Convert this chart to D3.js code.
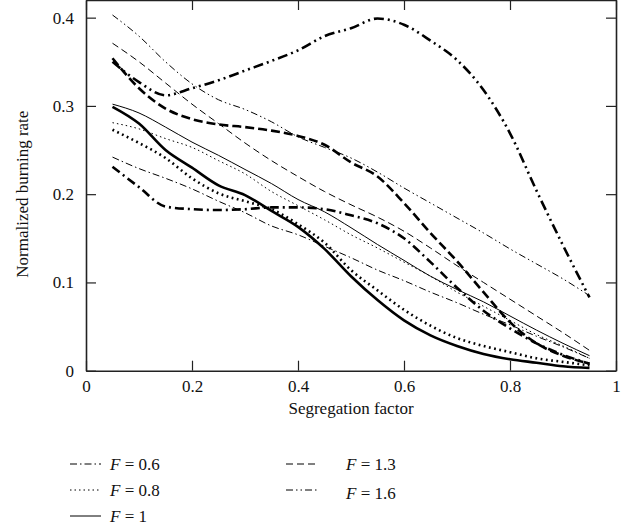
<!DOCTYPE html>
<html>
<head>
<meta charset="utf-8">
<script src="https://cdn.jsdelivr.net/npm/d3@7"></script>
<style>
  html, body { margin: 0; padding: 0; background: #fff; }
  svg { display: block; font-family: "Liberation Serif", "DejaVu Serif", serif; }
</style>
</head>
<body>
<svg id="chart" width="638" height="531"></svg>
<script>
// Segregation factor sample points
const xs = [0.05, 0.1, 0.15, 0.2, 0.25, 0.3, 0.35, 0.4, 0.45, 0.5,
            0.55, 0.6, 0.65, 0.7, 0.75, 0.8, 0.85, 0.9, 0.95];

// Normalized burning rate, two curves per equivalence ratio F (thin and thick)
const f06Thin  = [0.242, 0.229, 0.218, 0.206, 0.192, 0.179, 0.164, 0.154, 0.141, 0.128,
                  0.114, 0.102, 0.089, 0.077, 0.064, 0.052, 0.039, 0.027, 0.014];
const f06Thick = [0.231, 0.208, 0.186, 0.183, 0.182, 0.183, 0.185, 0.185, 0.183, 0.176,
                  0.167, 0.150, 0.123, 0.094, 0.068, 0.048, 0.031, 0.018, 0.008];
const f08Thin  = [0.281, 0.274, 0.263, 0.253, 0.238, 0.223, 0.203, 0.187, 0.171, 0.154,
                  0.139, 0.123, 0.107, 0.089, 0.073, 0.057, 0.041, 0.028, 0.014];
const f08Thick = [0.273, 0.258, 0.241, 0.218, 0.201, 0.192, 0.183, 0.166, 0.145, 0.114,
                  0.091, 0.069, 0.051, 0.037, 0.028, 0.021, 0.014, 0.010, 0.006];
const f1Thin   = [0.302, 0.292, 0.276, 0.259, 0.244, 0.228, 0.212, 0.194, 0.180, 0.162,
                  0.143, 0.125, 0.107, 0.092, 0.078, 0.062, 0.046, 0.031, 0.017];
const f1Thick  = [0.299, 0.280, 0.250, 0.230, 0.210, 0.199, 0.181, 0.163, 0.138, 0.107,
                  0.080, 0.057, 0.040, 0.028, 0.019, 0.013, 0.009, 0.005, 0.003];
const f13Thin  = [0.371, 0.350, 0.326, 0.302, 0.280, 0.258, 0.238, 0.220, 0.203, 0.188,
                  0.174, 0.158, 0.139, 0.119, 0.100, 0.081, 0.062, 0.043, 0.023];
const f13Thick = [0.354, 0.320, 0.297, 0.285, 0.279, 0.276, 0.272, 0.266, 0.256, 0.236,
                  0.220, 0.190, 0.156, 0.124, 0.089, 0.055, 0.031, 0.017, 0.008];
const f16Thin  = [0.403, 0.379, 0.350, 0.325, 0.307, 0.296, 0.282, 0.265, 0.253, 0.241,
                  0.225, 0.207, 0.190, 0.173, 0.156, 0.138, 0.121, 0.104, 0.085];
const f16Thick = [0.350, 0.327, 0.312, 0.320, 0.329, 0.340, 0.351, 0.363, 0.379, 0.388,
                  0.399, 0.392, 0.374, 0.352, 0.318, 0.269, 0.204, 0.142, 0.083];

const xTicks = [0, 0.2, 0.4, 0.6, 0.8, 1];
const yTicks = [0, 0.1, 0.2, 0.3, 0.4];
const xTickLabels = ["0", "0.2", "0.4", "0.6", "0.8", "1"];
const yTickLabels = ["0", "0.1", "0.2", "0.3", "0.4"];

const legendLabels = ["0.6", "0.8", "1", "1.3", "1.6"];

// Line styles for each F
const styles = {
  "0.6": { thin: "7,3,1.5,3",        thick: "9,4,2,4" },
  "0.8": { thin: "1.5,3",            thick: "1.8,3.5" },
  "1":   { thin: null,               thick: null },
  "1.3": { thin: "7,4",              thick: "9,4" },
  "1.6": { thin: "7,3,1.5,3,1.5,3",  thick: "10,4,2,4,2,4" }
};

const series = [
  { f: "0.6", thin: f06Thin, thick: f06Thick },
  { f: "0.8", thin: f08Thin, thick: f08Thick },
  { f: "1",   thin: f1Thin,  thick: f1Thick },
  { f: "1.3", thin: f13Thin, thick: f13Thick },
  { f: "1.6", thin: f16Thin, thick: f16Thick }
];

const svg = d3.select("#chart");
const fontSize = 17;
const x = d3.scaleLinear().domain([0, 1]).range([86, 616]);
const y = d3.scaleLinear().domain([0, 0.42]).range([370.7, 0]);

const line = d3.line()
  .x((d, i) => x(xs[i]))
  .y(d => y(d))
  .curve(d3.curveMonotoneX);

// Data curves
const plot = svg.append("g");
series.forEach(s => {
  plot.append("path")
    .attr("d", line(s.thin))
    .attr("fill", "none")
    .attr("stroke", "#000")
    .attr("stroke-width", 1)
    .attr("stroke-dasharray", styles[s.f].thin);
  plot.append("path")
    .attr("d", line(s.thick))
    .attr("fill", "none")
    .attr("stroke", "#000")
    .attr("stroke-width", 2.6)
    .attr("stroke-dasharray", styles[s.f].thick);
});

// Axes with inward ticks on all four sides
const tickLen = 10;
const axisColor = "#222";
function styleAxis(g) {
  g.select(".domain").attr("stroke", axisColor).attr("stroke-width", 1.6);
  g.selectAll(".tick line").attr("stroke", axisColor).attr("stroke-width", 1.2);
  g.selectAll(".tick text").attr("font-size", fontSize).attr("fill", "#111")
    .attr("font-family", "Liberation Serif, serif");
}
svg.append("g").attr("transform", `translate(0,${y(0)})`)
  .call(d3.axisBottom(x).tickValues(xTicks).tickFormat((d, i) => xTickLabels[i])
        .tickSizeInner(-tickLen).tickSizeOuter(0).tickPadding(9))
  .call(styleAxis);
svg.append("g").attr("transform", `translate(0,${y(0.42)})`)
  .call(d3.axisTop(x).tickValues(xTicks).tickFormat("")
        .tickSizeInner(-tickLen).tickSizeOuter(0))
  .call(styleAxis);
svg.append("g").attr("transform", `translate(${x(0)},0)`)
  .call(d3.axisLeft(y).tickValues(yTicks).tickFormat((d, i) => yTickLabels[i])
        .tickSizeInner(-tickLen).tickSizeOuter(0).tickPadding(12))
  .call(styleAxis);
svg.append("g").attr("transform", `translate(${x(1)},0)`)
  .call(d3.axisRight(y).tickValues(yTicks).tickFormat("")
        .tickSizeInner(-tickLen).tickSizeOuter(0))
  .call(styleAxis);

// Axis titles
svg.append("text")
  .attr("x", x(0.5)).attr("y", 414)
  .attr("text-anchor", "middle")
  .attr("font-size", fontSize).attr("fill", "#111")
  .text("Segregation factor");
svg.append("text")
  .attr("transform", `translate(28,${y(0.2)}) rotate(-90)`)
  .attr("text-anchor", "middle")
  .attr("font-size", fontSize).attr("fill", "#111")
  .text("Normalized burning rate");

// Legend
const legendPos = [
  { lx: 70,  tx: 110, y: 470, ly: 464 },
  { lx: 70,  tx: 110, y: 496, ly: 490 },
  { lx: 70,  tx: 110, y: 522, ly: 516 },
  { lx: 286, tx: 346, y: 470, ly: 464 },
  { lx: 286, tx: 346, y: 499, ly: 490 }
];
const legend = svg.append("g");
legendLabels.forEach((f, i) => {
  const p = legendPos[i];
  legend.append("line")
    .attr("x1", p.lx).attr("x2", p.lx + 31)
    .attr("y1", p.ly).attr("y2", p.ly)
    .attr("stroke", "#000").attr("stroke-width", 1)
    .attr("stroke-dasharray", styles[f].thin);
  const t = legend.append("text")
    .attr("x", p.tx).attr("y", p.y)
    .attr("font-size", fontSize).attr("fill", "#111");
  t.append("tspan").attr("font-style", "italic").text("F");
  t.append("tspan").text(" = " + f);
});
</script>
</body>
</html>
